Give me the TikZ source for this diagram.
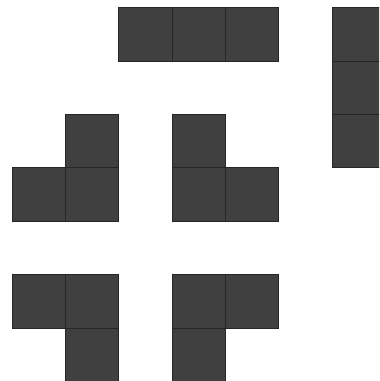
\documentclass[tikz,border=0pt]{standalone}
\begin{document}
\begin{tikzpicture}[x=0.75pt,y=-0.75pt,
  cell/.style={fill=cellfill,draw=celledge,line width=0.75pt}]
\definecolor{cellfill}{HTML}{404040}
\definecolor{celledge}{HTML}{262626}
\useasboundingbox (0,0) rectangle (379,381);
\clip (0,0) rectangle (379,381);
\def\u{53.333}
\foreach \c/\r in {2/0,3/0,4/0, 6/0,6/1,6/2, 1/2,1/3,0/3, 3/2,3/3,4/3, 0/5,1/5,1/6, 3/5,4/5,3/6}{
  \draw[cell] ({12+\c*\u},{8+\r*\u}) rectangle ++(\u,\u);
}
\end{tikzpicture}
\end{document}
